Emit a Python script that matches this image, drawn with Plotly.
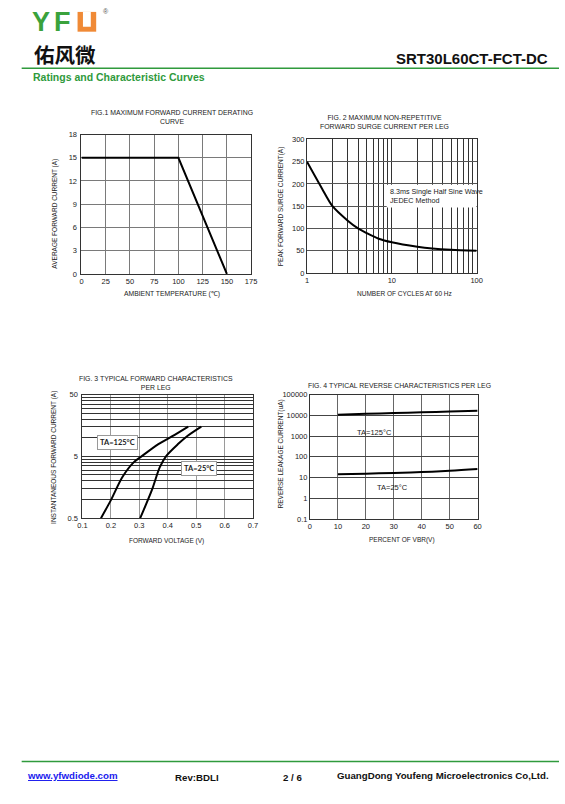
import math
import plotly.graph_objects as go

W, H = 565, 804

# ---------------- data ----------------
# Fig.1 derating curve
fig1_temp = [0, 100, 150]
fig1_current = [15, 15, 0]
fig1_xticks = [0, 25, 50, 75, 100, 125, 150, 175]
fig1_yticks = [0, 3, 6, 9, 12, 15, 18]

# Fig.2 surge current
fig2_cycles = [1, 1.5, 2, 3, 4, 5, 7, 10, 20, 30, 50, 100]
fig2_surge = [250, 190, 150, 118, 100, 90, 77, 69, 59, 55, 52, 50]
fig2_xgrid = [1, 2, 3, 4, 5, 6, 7, 8, 9, 10, 20, 30, 40, 50, 60, 70, 80, 90, 100]
fig2_xlabels = ["1", "", "", "", "", "", "", "", "", "10", "", "", "", "", "", "", "", "", "100"]
fig2_yticks = [0, 50, 100, 150, 200, 250, 300]

# Fig.3 forward characteristics
fig3_v125 = [0.165, 0.20, 0.24, 0.28, 0.31, 0.367, 0.413, 0.472]
fig3_i125 = [0.5, 0.98, 2.3, 4.0, 5.1, 7.9, 10.4, 15.2]
fig3_v25 = [0.303, 0.344, 0.372, 0.395, 0.436, 0.470, 0.518]
fig3_i25 = [0.5, 1.42, 3.35, 5.1, 7.9, 10.8, 15.2]
fig3_xticks = [0.1, 0.2, 0.3, 0.4, 0.5, 0.6, 0.7]
fig3_ygrid = [0.5, 1, 1.5, 2, 2.5, 3, 3.5, 4, 4.5, 5, 10, 15, 20, 25, 30, 35, 40, 45, 50]
fig3_ylabels = ["0.5"] + [""] * 8 + ["5"] + [""] * 8 + ["50"]

# Fig.4 reverse characteristics
fig4_pct = [10, 20, 30, 40, 50, 60]
fig4_i125 = [10700, 11800, 12800, 14000, 15300, 16600]
fig4_i25 = [14.5, 15.5, 16.8, 18.5, 21.5, 26]
fig4_xticks = [0, 10, 20, 30, 40, 50, 60]
fig4_yticks = [0.1, 1, 10, 100, 1000, 10000, 100000]
fig4_ylabels = ["0.1", "1", "10", "100", "1000", "10000", "100000"]

# ---------------- helpers ----------------
FONT = "Liberation Sans"
GREEN = "#2f9a3c"


def px(x):
    return x / W


def py(y):
    return 1 - y / H


fig = go.Figure()

line_style = dict(color="black", width=2)
fig.add_trace(go.Scatter(x=fig1_temp, y=fig1_current, mode="lines", line=line_style,
                         xaxis="x", yaxis="y", showlegend=False))
fig.add_trace(go.Scatter(x=fig2_cycles, y=fig2_surge, mode="lines", line=dict(color="black", width=2, shape="spline", smoothing=0.8),
                         xaxis="x2", yaxis="y2", showlegend=False))
fig.add_trace(go.Scatter(x=fig3_v125, y=fig3_i125, mode="lines", line=dict(color="black", width=2, shape="spline", smoothing=0.8),
                         xaxis="x3", yaxis="y3", showlegend=False))
fig.add_trace(go.Scatter(x=fig3_v25, y=fig3_i25, mode="lines", line=dict(color="black", width=2, shape="spline", smoothing=0.8),
                         xaxis="x3", yaxis="y3", showlegend=False))
fig.add_trace(go.Scatter(x=fig4_pct, y=fig4_i125, mode="lines", line=dict(color="black", width=2, shape="spline"),
                         xaxis="x4", yaxis="y4", showlegend=False))
fig.add_trace(go.Scatter(x=fig4_pct, y=fig4_i25, mode="lines", line=dict(color="black", width=2, shape="spline"),
                         xaxis="x4", yaxis="y4", showlegend=False))

tickfont = dict(family=FONT, size=7.5, color="#222")
common = dict(showline=True, linecolor="#333", linewidth=1, mirror=True, zeroline=False,
              ticks="", tickfont=tickfont, fixedrange=True)

layout = dict(
    width=W, height=H, autosize=False,
    margin=dict(l=0, r=0, t=0, b=0),
    paper_bgcolor="white", plot_bgcolor="white",
    font=dict(family=FONT, color="#222"),
    # fig1
    xaxis=dict(domain=[px(78), px(251)], anchor="y", range=[0, 175], tickvals=fig1_xticks,
               showgrid=True, gridcolor="#7a7a7a", gridwidth=1.3, **common),
    yaxis=dict(domain=[py(273), py(132)], anchor="x", range=[0, 18], tickvals=fig1_yticks,
               showgrid=True, gridcolor="#7a7a7a", gridwidth=1.3, ticklabelstandoff=2, **common),
    # fig2
    xaxis2=dict(domain=[px(308), px(481)], anchor="y2", type="log", range=[0, 2],
                tickvals=fig2_xgrid, ticktext=fig2_xlabels,
                showgrid=True, gridcolor="#333", gridwidth=1.2, **common),
    yaxis2=dict(domain=[py(272), py(137)], anchor="x2", range=[0, 300], tickvals=fig2_yticks,
                showgrid=True, gridcolor="#555", gridwidth=1.2, **common),
    # fig3
    xaxis3=dict(domain=[px(79), px(253)], anchor="y3", range=[0.1, 0.7], tickvals=fig3_xticks,
                showgrid=True, gridcolor="#9a9a9a", gridwidth=1.3, **common),
    yaxis3=dict(domain=[py(520), py(395)], anchor="x3", type="log", range=[-0.30103, 1.69897],
                tickvals=fig3_ygrid, ticktext=fig3_ylabels, ticklabelstandoff=2,
                showgrid=True, gridcolor="#333", gridwidth=0.9, **common),
    # fig4
    xaxis4=dict(domain=[px(311), px(482)], anchor="y4", range=[0, 60], tickvals=fig4_xticks,
                showgrid=True, gridcolor="#666", gridwidth=1.3, **common),
    yaxis4=dict(domain=[py(521), py(395)], anchor="x4", type="log", range=[-1, 5],
                tickvals=fig4_yticks, ticktext=fig4_ylabels,
                showgrid=True, gridcolor="#444", gridwidth=1.1, **common),
)
fig.update_layout(**layout)

ann = []


def text(x, y, s, size=6.5, color="#222", bold=False, xanchor="center", angle=0, family=FONT, **kw):
    if bold:
        s = "<b>" + s + "</b>"
    ann.append(dict(x=px(x), y=py(y), xref="paper", yref="paper", text=s, showarrow=False,
                    xanchor=xanchor, yanchor="middle", textangle=angle,
                    font=dict(family=family, size=size, color=color), **kw))


# header
text(27, 18, "Y", size=27, color="#3aa23c", bold=True, xanchor="left", borderpad=0)
text(49, 18, "F", size=27, color="#3aa23c", bold=True, xanchor="left", borderpad=0)
text(103, 8, "®", size=7, color="#555")
text(29, 51, "佑风微", size=20.5, color="#111", bold=True, xanchor="left",
     family="Noto Sans CJK SC", borderpad=0)
text(556, 55, "SRT30L60CT-FCT-DC", size=15, color="#111", bold=True, xanchor="right")
text(27, 74, "Ratings and Characteristic Curves", size=10.5, color=GREEN, bold=True, xanchor="left")

# footer
text(20, 780, "<u>www.yfwdiode.com</u>", size=9.7, color="#1a1aee", bold=True, xanchor="left")
text(171, 782, "Rev:BDLI", size=9.7, color="#111", bold=True, xanchor="left")
text(281, 782, "2 / 6", size=9.7, color="#111", bold=True, xanchor="left")
text(337, 780, "GuangDong Youfeng Microelectronics Co,Ltd.", size=9.7, color="#111", bold=True, xanchor="left")

# fig1 texts
text(170, 114, "FIG.1 MAXIMUM FORWARD CURRENT DERATING<br>CURVE", size=6.9)
text(170, 293, "AMBIENT TEMPERATURE (℃)", size=6.8)
text(51, 212, "AVERAGE FORWARD CURRENT (A)", size=6.5, angle=-90)

# fig2 texts
text(387, 119, "FIG. 2 MAXIMUM NON-REPETITIVE<br>FORWARD SURGE CURRENT PER LEG", size=6.9)
text(407, 293, "NUMBER OF CYCLES AT 60 Hz", size=6.5)
text(281, 205, "PEAK FORWARD SURGE CURRENT(A)", size=6.5, angle=-90)
ann.append(dict(x=math.log10(8.9), y=173, xref="x2", yref="y2",
                text="8.3ms Single Half Sine Wave<br>JEDEC Method",
                showarrow=False, xanchor="left", yanchor="middle", align="left",
                font=dict(family=FONT, size=7.2, color="#222")))

# fig3 texts
text(154, 383, "FIG. 3 TYPICAL FORWARD CHARACTERISTICS<br>PER LEG", size=6.9)
text(165, 543, "FORWARD VOLTAGE (V)", size=6.5)
text(50, 459, "INSTANTANEOUS FORWARD CURRENT (A)", size=6.5, angle=-90)
text(115, 443, "TA=125°C", size=7.5, bold=True, family="Lato",
     bordercolor="#999", borderwidth=1, borderpad=2, bgcolor="white")
text(198, 470, "TA=25°C", size=7.5, bold=True, family="Lato",
     bordercolor="#999", borderwidth=1, borderpad=2, bgcolor="white")

# fig4 texts
text(402, 386, "FIG. 4 TYPICAL REVERSE CHARACTERISTICS PER LEG", size=6.9)
text(405, 542, "PERCENT OF VBR(V)", size=6.5)
text(281, 455, "REVERSE LEAKAGE CURRENT(uA)", size=6.5, angle=-90)
text(377, 433, "TA=125°C", size=7.5)
text(395, 489, "TA=25°C", size=7.5)

fig.update_layout(annotations=ann)

shapes = [
    # header / footer rules
    dict(type="line", xref="paper", yref="paper", x0=px(17), x1=1, y0=py(65), y1=py(65),
         line=dict(color=GREEN, width=1.6)),
    dict(type="line", xref="paper", yref="paper", x0=px(17), x1=1, y0=py(766), y1=py(766),
         line=dict(color=GREEN, width=1.6)),
    # orange U of logo
    dict(type="rect", xref="paper", yref="paper", x0=px(74), x1=px(93), y0=py(28), y1=py(8),
         fillcolor="#f08a36", line=dict(width=0)),
    dict(type="rect", xref="paper", yref="paper", x0=px(79.5), x1=px(87.5), y0=py(23), y1=py(8),
         fillcolor="white", line=dict(width=0)),
    # white box behind fig2 note
    dict(type="rect", xref="x2", yref="y2", x0=8.7, x1=100, y0=147, y1=198,
         fillcolor="white", line=dict(width=0), layer="between"),
]
fig.update_layout(shapes=shapes)

fig.write_html("out.html", config={"displayModeBar": False},
               post_script="document.body.style.margin='0';document.body.style.overflow='hidden';")
